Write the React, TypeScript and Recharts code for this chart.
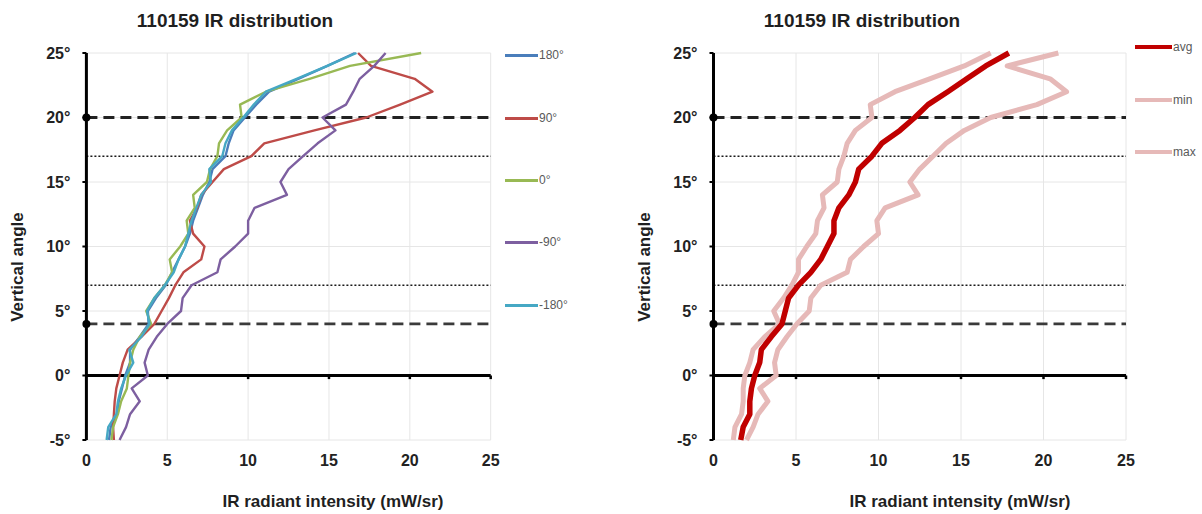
import React from 'react';
import {
  LineChart,
  Line,
  XAxis,
  YAxis,
  CartesianGrid,
  ReferenceLine,
  ReferenceDot,
} from 'recharts';

const FONT = '"Liberation Sans", Arial, Helvetica, sans-serif';

// Vertical angle (degrees), bottom to top
const angles = [-5, -4, -3, -2, -1, 0, 1, 2, 3, 4, 5, 6, 7, 8, 9, 10, 11, 12, 13, 14, 15, 16, 17, 18, 19, 20, 21, 22, 23, 24, 25];

// IR radiant intensity (mW/sr) per horizontal direction
const dir180 = [1.4, 1.5, 1.9, 2.0, 2.2, 2.4, 2.7, 2.7, 3.3, 3.85, 3.8, 4.3, 4.9, 5.3, 5.7, 6.1, 6.4, 6.6, 6.9, 7.2, 7.6, 7.8, 8.6, 8.8, 9.1, 9.8, 10.5, 11.3, 13.1, 14.9, 16.6];
const dir90 = [1.7, 1.65, 1.7, 1.75, 1.85, 2.05, 2.25, 2.55, 3.4, 4.2, 4.65, 5.1, 5.5, 6.0, 7.1, 7.3, 6.6, 6.4, 6.85, 7.1, 7.8, 8.5, 10.2, 11.0, 14.1, 17.3, 19.4, 21.4, 20.3, 17.6, 16.8];
const dir0 = [1.55, 1.65, 1.95, 2.15, 2.5, 2.6, 2.7, 2.9, 3.3, 4.0, 3.7, 4.2, 4.85, 5.3, 5.15, 5.8, 6.3, 6.2, 6.7, 6.6, 7.45, 7.65, 8.1, 8.2, 8.7, 9.6, 9.5, 11.1, 13.8, 16.3, 20.7];
const dirM90 = [2.05, 2.45, 2.7, 3.3, 2.8, 3.8, 3.6, 3.85, 4.35, 5.0, 5.85, 5.95, 6.5, 8.1, 8.3, 9.2, 10.0, 10.0, 10.4, 12.4, 12.0, 12.5, 13.4, 14.3, 15.4, 14.6, 16.05, 16.5, 16.9, 17.8, 18.5];
const dirM180 = [1.25, 1.35, 1.85, 1.95, 2.15, 2.45, 2.9, 2.65, 3.4, 3.9, 3.75, 4.2, 4.85, 5.4, 5.7, 6.1, 6.3, 6.5, 6.8, 7.1, 7.7, 7.6, 8.4, 8.6, 9.0, 9.7, 10.35, 11.1, 13.0, 14.9, 16.7];

// Summary across directions
const avgValues = [1.65, 1.8, 2.2, 2.2, 2.3, 2.5, 2.8, 2.9, 3.5, 4.15, 4.35, 4.55, 5.15, 5.9, 6.5, 6.9, 7.3, 7.3, 7.6, 8.2, 8.6, 8.8, 9.6, 10.2, 11.3, 12.2, 13.0, 14.2, 15.35, 16.5, 17.9];
const minValues = [1.2, 1.3, 1.7, 1.8, 1.8, 1.9, 2.2, 2.4, 3.1, 4.0, 3.65, 4.25, 4.75, 5.15, 5.15, 5.65, 6.2, 6.3, 6.7, 6.6, 7.5, 7.6, 7.9, 8.1, 8.6, 9.6, 9.5, 11.0, 13.1, 15.2, 16.8];
const maxValues = [2.0, 2.4, 2.7, 3.3, 2.8, 3.8, 3.7, 3.9, 4.45, 5.05, 5.8, 5.9, 6.5, 8.1, 8.3, 9.1, 10.0, 9.9, 10.4, 12.4, 11.9, 12.5, 13.3, 14.1, 15.2, 16.8, 19.6, 21.4, 20.4, 17.8, 20.9];

const xTicks = [0, 5, 10, 15, 20, 25];
const yTicks = [-5, 0, 5, 10, 15, 20, 25];
const dashedLevels = [20, 4];
const dottedLevels = [17, 7];

const title = '110159 IR distribution';
const yTitle = 'Vertical angle';
const xTitle = 'IR radiant intensity (mW/sr)';

type SeriesDef = { key: string; name: string; values: number[]; color: string; width: number };

const directionSeries: SeriesDef[] = [
  { key: 'd180', name: '180°', values: dir180, color: '#4A7EBB', width: 2.4 },
  { key: 'd90', name: '90°', values: dir90, color: '#BE4B48', width: 2.4 },
  { key: 'd0', name: '0°', values: dir0, color: '#98B954', width: 2.4 },
  { key: 'dm90', name: '-90°', values: dirM90, color: '#7D5FA0', width: 2.4 },
  { key: 'dm180', name: '-180°', values: dirM180, color: '#46A8C4', width: 2.4 },
];

const summarySeries: SeriesDef[] = [
  { key: 'min', name: 'min', values: minValues, color: '#E6B9B8', width: 5 },
  { key: 'max', name: 'max', values: maxValues, color: '#E6B9B8', width: 5 },
  { key: 'avg', name: 'avg', values: avgValues, color: '#C00000', width: 5.5 },
];

function buildRows(series: SeriesDef[]) {
  return angles.map((angle, i) => {
    const row: Record<string, number> = { angle };
    series.forEach((s) => {
      row[s.key] = s.values[i];
    });
    return row;
  });
}

type LegendItem = { name: string; color: string; width: number; top: number };

type PanelProps = {
  left: number;
  width: number;
  marginLeft: number;
  marginRight: number;
  series: SeriesDef[];
  legend: LegendItem[];
  legendLineLeft: number;
  legendLineLength: number;
  titleX: number;
  yTitleX: number;
  xTitleX: number;
};

const tickStyle = { fontFamily: FONT, fontSize: 16, fontWeight: 700, fill: '#222' };

function Panel(p: PanelProps) {
  const rows = buildRows(p.series);
  return (
    <>
      <div style={{ position: 'absolute', left: p.left, top: 0, width: p.width, height: 514 }}>
        <LineChart
          width={p.width}
          height={514}
          layout="vertical"
          data={rows}
          margin={{ top: 53, right: p.marginRight, bottom: 44, left: p.marginLeft }}
        >
          <CartesianGrid stroke="#e6e6e6" strokeWidth={1} />
          <XAxis
            type="number"
            domain={[0, 25]}
            ticks={xTicks}
            interval={0}
            height={30}
            axisLine={false}
            tickLine={false}
            tickSize={0}
            tickMargin={15}
            tick={tickStyle}
          />
          <YAxis
            type="number"
            dataKey="angle"
            domain={[-5, 25]}
            ticks={yTicks}
            interval={0}
            reversed
            width={40}
            axisLine={{ stroke: '#000', strokeWidth: 3 }}
            tickLine={{ stroke: '#000', strokeWidth: 2 }}
            tickSize={4}
            tickMargin={12}
            tick={tickStyle}
            tickFormatter={(v: number) => `${v}°`}
          />
          <ReferenceLine y={0} stroke="#000" strokeWidth={3} />
          {xTicks.slice(1).map((t) => (
            <ReferenceLine
              key={`xt${t}`}
              segment={[{ x: t, y: 0 }, { x: t, y: -0.28 }]}
              stroke="#000"
              strokeWidth={2.5}
            />
          ))}
          <ReferenceLine y={dashedLevels[0]} stroke="#222" strokeWidth={3} strokeDasharray="11 6" />
          <ReferenceLine y={dashedLevels[1]} stroke="#3a3a3a" strokeWidth={2.6} strokeDasharray="11 6" />
          {dottedLevels.map((lv) => (
            <ReferenceLine key={`dt${lv}`} y={lv} stroke="#1a1a1a" strokeWidth={1.5} strokeDasharray="2 2" />
          ))}
          {p.series.map((s) => (
            <Line
              key={s.key}
              type="linear"
              dataKey={s.key}
              name={s.name}
              stroke={s.color}
              strokeWidth={s.width}
              strokeLinejoin="round"
              dot={false}
              activeDot={false}
              isAnimationActive={false}
            />
          ))}
          {dashedLevels.map((lv) => (
            <ReferenceDot key={`dot${lv}`} x={0} y={lv} r={4} fill="#000" stroke="none" />
          ))}
        </LineChart>
      </div>
      {p.legend.map((item) => (
        <div key={item.name}>
          <div
            style={{
              position: 'absolute',
              left: p.legendLineLeft,
              top: item.top - item.width / 2,
              width: p.legendLineLength,
              height: item.width,
              background: item.color,
            }}
          />
          <div
            style={{
              position: 'absolute',
              left: p.legendLineLeft + p.legendLineLength + 1,
              top: item.top,
              transform: 'translateY(-50%)',
              fontFamily: FONT,
              fontSize: 12,
              lineHeight: 1,
              color: '#595959',
              whiteSpace: 'nowrap',
            }}
          >
            {item.name}
          </div>
        </div>
      ))}
      <div
        style={{
          position: 'absolute',
          left: p.titleX,
          top: 20,
          transform: 'translate(-50%, -50%)',
          fontFamily: FONT,
          fontSize: 19,
          fontWeight: 700,
          lineHeight: 1,
          color: '#1f1f1f',
          whiteSpace: 'nowrap',
        }}
      >
        {title}
      </div>
      <div
        style={{
          position: 'absolute',
          left: p.yTitleX,
          top: 267,
          transform: 'translate(-50%, -50%) rotate(-90deg)',
          fontFamily: FONT,
          fontSize: 17,
          fontWeight: 700,
          lineHeight: 1,
          color: '#1f1f1f',
          whiteSpace: 'nowrap',
        }}
      >
        {yTitle}
      </div>
      <div
        style={{
          position: 'absolute',
          left: p.xTitleX,
          top: 501,
          transform: 'translate(-50%, -50%)',
          fontFamily: FONT,
          fontSize: 17,
          fontWeight: 700,
          lineHeight: 1,
          color: '#1f1f1f',
          whiteSpace: 'nowrap',
        }}
      >
        {xTitle}
      </div>
    </>
  );
}

export default function App() {
  const leftLegend: LegendItem[] = directionSeries.map((s, i) => ({
    name: s.name,
    color: s.color,
    width: 3,
    top: [55, 118, 180, 242, 305][i],
  }));
  const rightLegend: LegendItem[] = [
    { name: 'avg', color: '#C00000', width: 4.5, top: 47 },
    { name: 'min', color: '#E6B9B8', width: 4.5, top: 100 },
    { name: 'max', color: '#E6B9B8', width: 4.5, top: 152 },
  ];
  return (
    <div style={{ position: 'absolute', left: 0, top: 0, width: 1202, height: 514, background: '#fff', overflow: 'hidden' }}>
      <Panel
        left={0}
        width={600}
        marginLeft={46.4}
        marginRight={109.3}
        series={directionSeries}
        legend={leftLegend}
        legendLineLeft={505}
        legendLineLength={33}
        titleX={235}
        yTitleX={17}
        xTitleX={333}
      />
      <Panel
        left={600}
        width={602}
        marginLeft={73.5}
        marginRight={76}
        series={summarySeries}
        legend={rightLegend}
        legendLineLeft={1135}
        legendLineLength={37}
        titleX={862}
        yTitleX={644}
        xTitleX={960}
      />
    </div>
  );
}
